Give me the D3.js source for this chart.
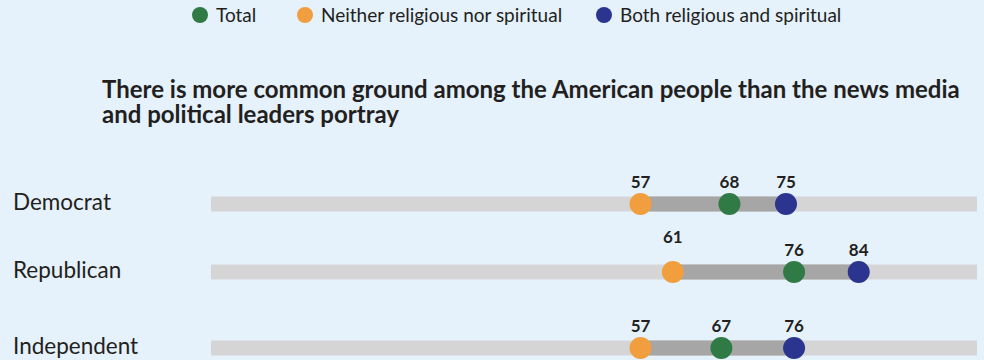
<!DOCTYPE html>
<html>
<head>
<meta charset="utf-8">
<script src="https://cdn.jsdelivr.net/npm/d3@7/dist/d3.min.js"></script>
<style>
  html, body { margin: 0; padding: 0; background: #e5f1fb; }
  svg { display: block; font-family: Lato, "Noto Sans", sans-serif; }
</style>
</head>
<body>
<div id="chart"></div>
<script>
// Dumbbell chart: agreement by party, split by religiosity

const width = 984;
const height = 360;

// Data
const rows = ["Democrat", "Republican", "Independent"];
const totalValues = [68, 76, 67];
const neitherValues = [57, 61, 57];
const bothValues = [75, 84, 76];

const seriesNames = ["Total", "Neither religious nor spiritual", "Both religious and spiritual"];
const seriesColors = ["#307b45", "#f19e3e", "#2b3590"];

const titleLines = [
  "There is more common ground among the American people than the news media",
  "and political leaders portray"
];

const svg = d3.select("#chart")
    .append("svg")
    .attr("width", width)
    .attr("height", height);

svg.append("rect")
    .attr("width", width)
    .attr("height", height)
    .attr("fill", "#e5f1fb");

// Scales
const x = d3.scaleLinear().domain([0, 100]).range([180, 988]);
const y = d3.scaleOrdinal().domain(rows).range([204, 272, 348]);
const trackLeft = 211, trackRight = 977, barH = 15, r = 11;

// Legend
const legendX = [200, 305, 604];
const legend = svg.append("g").attr("class", "legend");
seriesNames.forEach((name, i) => {
    const g = legend.append("g").attr("transform", `translate(${legendX[i]},15)`);
    g.append("circle").attr("r", 8).attr("fill", seriesColors[i]);
    g.append("text")
        .attr("x", 16)
        .attr("y", 6.5)
        .attr("font-size", 19)
        .attr("fill", "#231f20")
        .text(name);
});

// Title
svg.append("text")
    .attr("x", 102)
    .attr("y", 98)
    .attr("font-size", 24)
    .attr("font-weight", 700)
    .attr("fill", "#231f20")
    .selectAll("tspan")
    .data(titleLines)
    .join("tspan")
    .attr("x", 102)
    .attr("dy", (d, i) => i === 0 ? 0 : 25)
    .text(d => d);

// Row data
const data = rows.map((row, i) => ({
    row,
    points: [
        { key: "neither", value: neitherValues[i], color: seriesColors[1] },
        { key: "total", value: totalValues[i], color: seriesColors[0] },
        { key: "both", value: bothValues[i], color: seriesColors[2] }
    ]
}));

const rowG = svg.selectAll(".row")
    .data(data)
    .join("g")
    .attr("class", "row")
    .attr("transform", d => `translate(0,${y(d.row)})`);

// Row labels
rowG.append("text")
    .attr("x", 13)
    .attr("y", 6)
    .attr("font-size", 22.5)
    .attr("fill", "#231f20")
    .text(d => d.row);

// Background track
rowG.append("rect")
    .attr("x", trackLeft)
    .attr("y", -barH / 2)
    .attr("width", trackRight - trackLeft)
    .attr("height", barH)
    .attr("fill", "#d5d5d5");

// Range bar between min and max
rowG.append("rect")
    .attr("x", d => x(d3.min(d.points, p => p.value)))
    .attr("y", -barH / 2)
    .attr("width", d => x(d3.max(d.points, p => p.value)) - x(d3.min(d.points, p => p.value)))
    .attr("height", barH)
    .attr("fill", "#a6a6a6");

// Dots
rowG.selectAll("circle")
    .data(d => d.points)
    .join("circle")
    .attr("cx", p => x(p.value))
    .attr("r", r)
    .attr("fill", p => p.color);

// Value labels
rowG.each(function(d) {
    d3.select(this).selectAll(".val")
        .data(d.points)
        .join("text")
        .attr("class", "val")
        .attr("x", p => x(p.value))
        .attr("y", p => (d.row === "Republican" && p.key === "neither") ? -29 : -16)
        .attr("text-anchor", "middle")
        .attr("font-size", 17)
        .attr("font-weight", 700)
        .attr("fill", "#231f20")
        .text(p => p.value);
});
</script>
</body>
</html>
